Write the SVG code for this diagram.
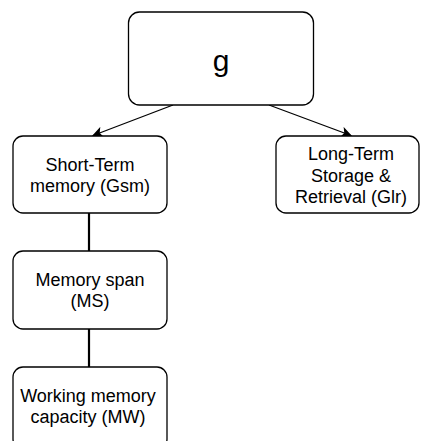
<svg xmlns="http://www.w3.org/2000/svg" width="422" height="441" viewBox="0 0 422 441">
  <style>
    .box { fill: #ffffff; stroke: #000000; stroke-width: 1.3; }
    .lbl { font-family: "Liberation Sans", Arial, sans-serif; font-size: 18px; fill: #000000; text-anchor: middle; }
    .big { font-family: "Liberation Sans", Arial, sans-serif; font-size: 30px; fill: #000000; text-anchor: middle; }
    .arrow { stroke: #000000; stroke-width: 1.3; fill: none; }
    .link { stroke: #000000; stroke-width: 2.2; fill: none; }
  </style>
  <defs>
    <marker id="ah" viewBox="0 0 10 10" refX="9" refY="5" markerWidth="11" markerHeight="11" markerUnits="userSpaceOnUse" orient="auto">
      <path d="M0,0 L10,5 L0,10 L2.5,5 Z" fill="#000000"/>
    </marker>
  </defs>
  <rect width="422" height="441" fill="#ffffff"/>
  <g id="connectors">
    <line class="arrow" x1="173" y1="105" x2="93" y2="135.5" marker-end="url(#ah)"/>
    <line class="arrow" x1="269" y1="105" x2="351" y2="135.5" marker-end="url(#ah)"/>
    <line class="link" x1="89" y1="213" x2="89" y2="251"/>
    <line class="link" x1="89" y1="329" x2="89" y2="367"/>
  </g>
  <g id="node-g">
    <rect class="box" x="128.5" y="12" width="185" height="93" rx="11"/>
    <text class="big" x="221" y="71">g</text>
  </g>
  <g id="node-gsm">
    <rect class="box" x="13" y="136" width="154" height="77" rx="10"/>
    <text class="lbl" x="90" y="171">Short-Term</text>
    <text class="lbl" x="90" y="192">memory (Gsm)</text>
  </g>
  <g id="node-glr">
    <rect class="box" x="276" y="136" width="143" height="77" rx="10"/>
    <text class="lbl" x="351" y="160">Long-Term</text>
    <text class="lbl" x="351" y="181.5">Storage &amp;</text>
    <text class="lbl" x="351" y="203">Retrieval (Glr)</text>
  </g>
  <g id="node-ms">
    <rect class="box" x="13" y="251" width="154" height="78" rx="10"/>
    <text class="lbl" x="90" y="286">Memory span</text>
    <text class="lbl" x="90" y="307">(MS)</text>
  </g>
  <g id="node-mw">
    <rect class="box" x="13" y="367" width="154" height="82" rx="10"/>
    <text class="lbl" x="88" y="402">Working memory</text>
    <text class="lbl" x="88" y="423">capacity (MW)</text>
  </g>
</svg>
